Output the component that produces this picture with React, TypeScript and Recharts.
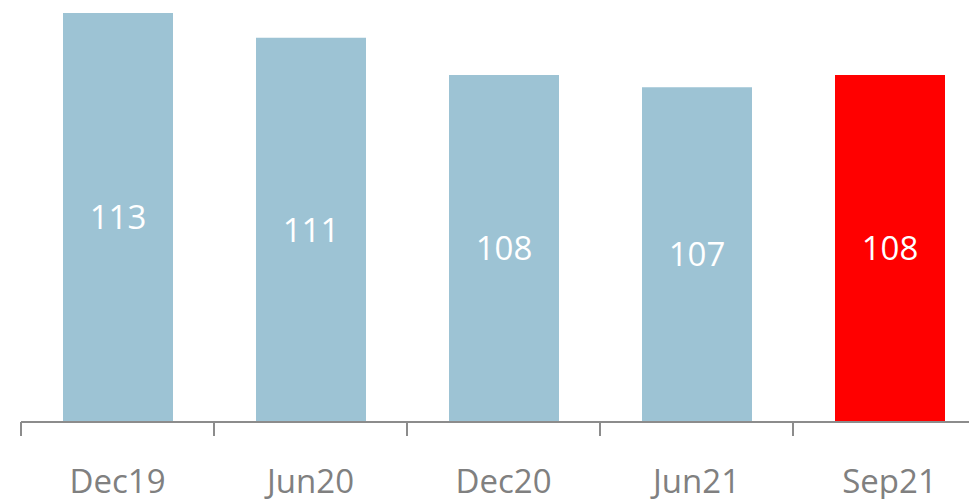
import React from "react";
import { BarChart, Bar, XAxis, YAxis, Cell, LabelList } from "recharts";

const categories = ["Dec19", "Jun20", "Dec20", "Jun21", "Sep21"];
const values = [113, 111, 108, 107, 108];
const colors = ["#9DC3D4", "#9DC3D4", "#9DC3D4", "#9DC3D4", "#FF0000"];

const data = categories.map((c, i) => ({ name: c, value: values[i] }));

const CHART_W = 986;
const CHART_H = 499;
const MARGIN = { top: 13, right: 0, left: 21, bottom: 0 };
const HALF_BAND = (CHART_W - MARGIN.left - MARGIN.right) / categories.length / 2;
const FONT = "'Open Sans', 'Noto Sans', sans-serif";

const Tick = (props: any) => {
  const { x, y, payload } = props;
  return (
    <g>
      <line x1={x - HALF_BAND} x2={x - HALF_BAND} y1={y - 8} y2={y + 6} stroke="#8c8c8c" strokeWidth={2} />
      {payload.index === categories.length - 1 && (
        <line x1={x + HALF_BAND} x2={x + HALF_BAND} y1={y - 8} y2={y + 6} stroke="#8c8c8c" strokeWidth={2} />
      )}
      <text x={x} y={y + 63} textAnchor="middle" fill="#808080" fontSize={33} fontFamily={FONT}>
        {payload.value}
      </text>
    </g>
  );
};

export default function App() {
  return (
    <div style={{ position: "absolute", left: 0, top: 0, width: 969, height: 499, overflow: "hidden", background: "#fff" }}>
      <BarChart width={CHART_W} height={CHART_H} data={data} margin={MARGIN} barSize={110}>
        <XAxis
          dataKey="name"
          height={77}
          axisLine={{ stroke: "#8c8c8c", strokeWidth: 2 }}
          tickLine={false}
          tick={<Tick />}
          interval={0}
        />
        <YAxis hide domain={[80, 113]} allowDataOverflow />
        <Bar dataKey="value" isAnimationActive={false}>
          {data.map((d, i) => (
            <Cell key={d.name} fill={colors[i]} />
          ))}
          <LabelList
            dataKey="value"
            position="center"
            fill="#ffffff"
            fontSize={33}
            fontFamily={FONT}
          />
        </Bar>
      </BarChart>
    </div>
  );
}
